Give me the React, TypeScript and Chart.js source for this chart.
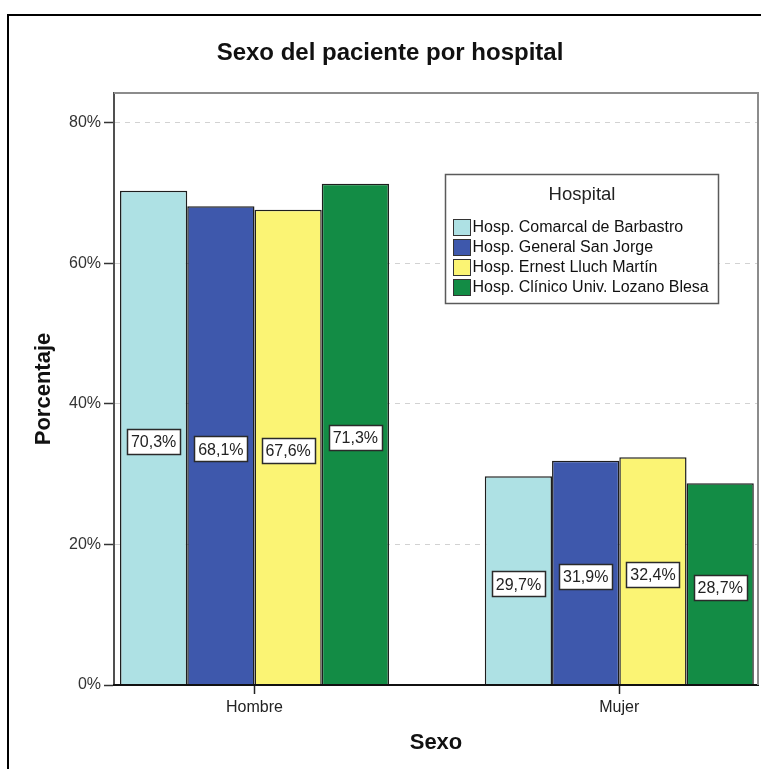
import React, { useEffect, useRef } from 'react';
import { Chart, registerables } from 'chart.js';

Chart.register(...registerables);

const FONT = '"Liberation Sans", Arial, Helvetica, sans-serif';

const categories = ['Hombre', 'Mujer'];
const hospitals = [
  'Hosp. Comarcal de Barbastro',
  'Hosp. General San Jorge',
  'Hosp. Ernest Lluch Martín',
  'Hosp. Clínico Univ. Lozano Blesa',
];
const comarcalValues = [70.3, 29.7];
const sanJorgeValues = [68.1, 31.9];
const lluchValues = [67.6, 32.4];
const clinicoValues = [71.3, 28.7];
const seriesValues = [comarcalValues, sanJorgeValues, lluchValues, clinicoValues];
const hospitalColors = ['#AEE1E4', '#3E58AC', '#FBF474', '#138C45'];
const yTickValues = [0, 20, 40, 60, 80];

const framePlugin = {
  id: 'frame',
  afterDraw(chart: any) {
    const { ctx, chartArea } = chart;
    ctx.save();
    ctx.strokeStyle = '#8c8c8c';
    ctx.lineWidth = 2;
    ctx.beginPath();
    ctx.moveTo(chartArea.left, chartArea.top);
    ctx.lineTo(chartArea.right, chartArea.top);
    ctx.lineTo(chartArea.right, chartArea.bottom);
    ctx.stroke();
    ctx.restore();
  },
};

const labelPlugin = {
  id: 'valueLabels',
  afterDatasetsDraw(chart: any) {
    const { ctx } = chart;
    ctx.save();
    ctx.font = `16px ${FONT}`;
    ctx.textAlign = 'center';
    ctx.textBaseline = 'middle';
    chart.data.datasets.forEach((ds: any, di: number) => {
      const meta = chart.getDatasetMeta(di);
      meta.data.forEach((el: any, i: number) => {
        const v = ds.data[i].y as number;
        const text = v.toFixed(1).replace('.', ',') + '%';
        const { x, y, base } = el.getProps(['x', 'y', 'base'], true);
        const cy = (y + base) / 2 + 3.5;
        const tw = ctx.measureText(text).width;
        const bw = Math.round(tw + 8);
        const bh = 25;
        const bx = Math.round(x - bw / 2) + 0.5;
        const by = Math.round(cy - bh / 2) + 0.5;
        ctx.fillStyle = '#ffffff';
        ctx.fillRect(bx, by, bw, bh);
        ctx.strokeStyle = '#2a2a2a';
        ctx.lineWidth = 1.5;
        ctx.strokeRect(bx, by, bw, bh);
        ctx.fillStyle = '#222222';
        ctx.fillText(text, x, cy + 1.4);
      });
    });
    ctx.restore();
  },
};

const legendPlugin = {
  id: 'boxLegend',
  afterDraw(chart: any) {
    const { ctx, chartArea } = chart;
    const w = 273;
    const h = 129;
    const x0 = Math.round(chartArea.right - 40 - w) + 0.5;
    const y0 = Math.round(chartArea.top + 81) + 0.5;
    ctx.save();
    ctx.fillStyle = '#ffffff';
    ctx.fillRect(x0, y0, w, h);
    ctx.strokeStyle = '#5a5a5a';
    ctx.lineWidth = 1.5;
    ctx.strokeRect(x0, y0, w, h);
    ctx.fillStyle = '#222222';
    ctx.font = `18.5px ${FONT}`;
    ctx.textAlign = 'center';
    ctx.textBaseline = 'middle';
    ctx.fillText('Hospital', x0 + w / 2, y0 + 20.5);
    ctx.font = `16px ${FONT}`;
    ctx.textAlign = 'left';
    chart.data.datasets.forEach((ds: any, i: number) => {
      const cy = y0 + 53 + i * 20;
      ctx.fillStyle = ds.backgroundColor;
      ctx.fillRect(x0 + 8, cy - 8, 17, 16);
      ctx.strokeStyle = '#333333';
      ctx.lineWidth = 1;
      ctx.strokeRect(x0 + 8, cy - 8, 17, 16);
      ctx.fillStyle = '#111111';
      ctx.fillText(ds.label, x0 + 27, cy);
    });
    ctx.restore();
  },
};

export default function App() {
  const ref = useRef<HTMLCanvasElement>(null);

  useEffect(() => {
    const canvas = ref.current;
    if (!canvas) return;
    Chart.defaults.font.family = FONT;
    const datasets = hospitals.map((name, si) => ({
      label: name,
      data: categories.map((_, ci) => ({ x: ci, y: seriesValues[si][ci] })),
      backgroundColor: hospitalColors[si],
      borderColor: '#1e1e1e',
      borderWidth: 1.5,
      borderSkipped: 'start',
      categoryPercentage: 0.7374,
      barPercentage: 1,
    }));
    const chart = new Chart(canvas, {
      type: 'bar',
      data: { datasets } as any,
      options: {
        animation: false,
        responsive: false,
        devicePixelRatio: 1,
        layout: { padding: { left: 22, right: 3, top: 0, bottom: 0 } },
        plugins: {
          legend: { display: false },
          tooltip: { enabled: false },
          title: {
            display: true,
            text: 'Sexo del paciente por hospital',
            color: '#111111',
            font: { size: 24, weight: 'bold', family: FONT },
            padding: { top: 39, bottom: 25.2 },
          },
        },
        scales: {
          x: {
            type: 'linear',
            offset: false,
            min: -0.3851,
            max: 1.3802,
            bounds: 'data',
            afterBuildTicks: (s: any) => {
              s.ticks = categories.map((_, i) => ({ value: i }));
            },
            afterFit: (s: any) => {
              s.height = 84;
            },
            ticks: {
              callback: (v: any) => categories[v as number] ?? '',
              color: '#222222',
              font: { size: 16, family: FONT },
              padding: 4,
              maxRotation: 0,
              autoSkip: false,
            },
            grid: {
              offset: false,
              drawOnChartArea: false,
              drawTicks: true,
              tickLength: 9,
              tickColor: '#222222',
              tickWidth: 1.5,
            },
            border: { display: true, color: '#111111', width: 2, z: 1 },
            title: {
              display: true,
              text: 'Sexo',
              color: '#111111',
              font: { size: 22, weight: 'bold', family: FONT },
              padding: { top: 0, bottom: 13 },
            },
          },
          y: {
            min: 0,
            max: 84.2,
            afterBuildTicks: (s: any) => {
              s.ticks = yTickValues.map((v) => ({ value: v }));
            },
            afterFit: (s: any) => {
              s.width = 92;
            },
            ticks: {
              callback: (v: any) => `${v}%`,
              color: '#333333',
              font: { size: 16, family: FONT },
              padding: 3,
            },
            grid: {
              color: (c: any) => (c.tick && c.tick.value === 0 ? 'rgba(0,0,0,0)' : '#d2d2d2'),
              lineWidth: 1,
              drawTicks: true,
              tickLength: 10,
              tickColor: '#333333',
              tickWidth: 1.5,
              tickBorderDash: [],
            },
            border: { display: true, color: '#505050', width: 2, dash: [5, 5] },
            title: {
              display: true,
              text: 'Porcentaje',
              color: '#111111',
              font: { size: 22, weight: 'bold', family: FONT },
              padding: { top: 9, bottom: 0 },
            },
          },
        },
      } as any,
      plugins: [framePlugin, labelPlugin, legendPlugin],
    });
    return () => chart.destroy();
  }, []);

  return (
    <div
      style={{
        position: 'fixed',
        left: 0,
        top: 0,
        width: 761,
        height: 769,
        background: '#ffffff',
        overflow: 'hidden',
      }}
    >
      <canvas
        ref={ref}
        width={761}
        height={769}
        style={{ position: 'absolute', left: 0, top: 0, width: 761, height: 769 }}
      />
      <div
        style={{
          position: 'absolute',
          left: 7,
          top: 14,
          width: 800,
          height: 800,
          borderLeft: '2px solid #000',
          borderTop: '2px solid #000',
          pointerEvents: 'none',
        }}
      />
    </div>
  );
}
